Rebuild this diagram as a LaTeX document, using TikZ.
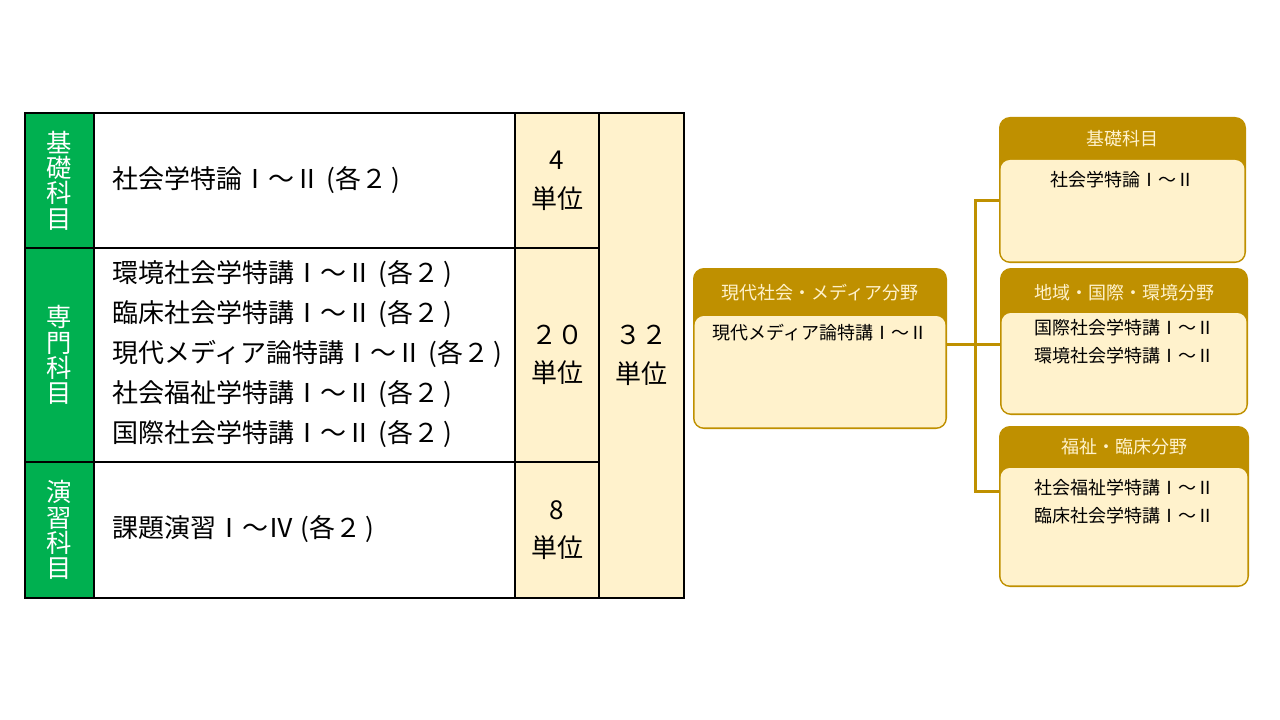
\documentclass[tikz,border=0pt]{standalone}
\usepackage{fontspec}
\setmainfont{Noto Sans CJK JP}
\usetikzlibrary{positioning}

\definecolor{gold}{HTML}{BF9000}
\definecolor{cream}{HTML}{FFF2CC}
\definecolor{kgreen}{HTML}{00B050}

\tikzset{
	catcell/.style = {draw, line width=1pt, fill=kgreen, text=white, minimum width=51.75pt, inner sep=0pt, align=center, font=\fontsize{19}{19}\selectfont},
	coursecell/.style = {draw, line width=1pt, fill=white, minimum width=315.75pt, inner sep=0pt},
	coursetext/.style = {inner sep=0pt, align=left, font=\fontsize{19.5}{30}\selectfont},
	unitcell/.style = {draw, line width=1pt, fill=cream, minimum width=63pt, inner sep=0pt, align=center, font=\fontsize{19.5}{29}\selectfont},
	fieldbox/.style = {draw=gold, fill=gold, line width=1.5pt, rounded corners=7.5pt, inner sep=0pt},
	fieldhead/.style = {text=cream, inner sep=0pt, font=\fontsize{13.5}{21}\selectfont},
	fieldbody/.style = {fill=cream, rounded corners=7pt},
	fieldtext/.style = {anchor=north, inner sep=0pt, align=left, font=\fontsize{13.5}{21}\selectfont},
	link/.style = {draw=gold, line width=2.25pt}
}

\begin{document}
\begin{tikzpicture}[x=0.75pt, y=-0.75pt]
	\useasboundingbox (0,0) rectangle (1280,720);

	% table of credits
	\node[catcell, minimum height=101.25pt] (kisoG) at (59.5,180.5) {基\\礎\\科\\目};
	\node[catcell, minimum height=160.5pt] (senmonG) at (59.5,355) {専\\門\\科\\目};
	\node[catcell, minimum height=102pt] (enshuG) at (59.5,530) {演\\習\\科\\目};

	\node[coursecell, minimum height=101.25pt] (kisoC) at (304.5,180.5) {};
	\node[coursecell, minimum height=160.5pt] (senmonC) at (304.5,355) {};
	\node[coursecell, minimum height=102pt] (enshuC) at (304.5,530) {};
	\node[coursetext, right=14.25pt of kisoC.west] (kisoT) {社会学特論Ⅰ～Ⅱ (各２\,)};
	\node[coursetext, right=14.25pt of senmonC.west, yshift=1pt] (senmonT) {環境社会学特講Ⅰ～Ⅱ (各２\,)\\臨床社会学特講Ⅰ～Ⅱ (各２\,)\\現代メディア論特講Ⅰ～Ⅱ (各２\,)\\社会福祉学特講Ⅰ～Ⅱ (各２\,)\\国際社会学特講Ⅰ～Ⅱ (各２\,)};
	\node[coursetext, right=14.25pt of enshuC.west, yshift=1pt] (enshuT) {課題演習Ⅰ～Ⅳ (各２\,)};

	\node[unitcell, minimum height=101.25pt] (kisoU) at (557,180.5) {4\\単位};
	\node[unitcell, minimum height=160.5pt] (senmonU) at (557,355) {２０\\単位};
	\node[unitcell, minimum height=102pt] (enshuU) at (557,530) {8\\単位};
	\node[unitcell, minimum width=63.75pt, minimum height=363.75pt] (total) at (641.5,355.5) {３２\\単位};

	% connectors
	\coordinate (spineT) at (975,201);
	\coordinate (spineM) at (975,344);
	\coordinate (spineB) at (975,491);

	% field boxes
	\node[fieldbox, minimum width=189pt, minimum height=119.25pt] (media) at (820,348.5) {};
	\node[fieldbox, minimum width=183.75pt, minimum height=108pt] (kisoF) at (1122.5,190) {};
	\node[fieldbox, minimum width=184.5pt, minimum height=108.75pt] (chiiki) at (1124,341.5) {};
	\node[fieldbox, minimum width=186pt, minimum height=119.25pt] (fukushi) at (1124,506.5) {};

	\draw[link] (kisoF.west |- spineT) -- (spineT) -- (spineB) -- (fukushi.west |- spineB);
	\draw[link] (media.east |- spineM) -- (chiiki.west |- spineM);

	\fill[fieldbody] ([xshift=1.2pt]media.west |- 0,316) rectangle ([shift={(-1.2pt,1.2pt)}]media.south east);
	\fill[fieldbody] ([xshift=1.2pt]kisoF.west |- 0,160) rectangle ([shift={(-1.2pt,1.2pt)}]kisoF.south east);
	\fill[fieldbody] ([xshift=1.2pt]chiiki.west |- 0,313) rectangle ([shift={(-1.2pt,1.2pt)}]chiiki.south east);
	\fill[fieldbody] ([xshift=1.2pt]fukushi.west |- 0,468) rectangle ([shift={(-1.2pt,1.2pt)}]fukushi.south east);

	\node[fieldhead] (mediaH) at (820,293) {現代社会・メディア分野};
	\node[fieldhead] (kisoH) at (1122.5,139) {基礎科目};
	\node[fieldhead] (chiikiH) at (1124,293) {地域・国際・環境分野};
	\node[fieldhead] (fukushiH) at (1124,447) {福祉・臨床分野};

	\node[fieldtext] (mediaB) at (820,324) {現代メディア論特講Ⅰ～Ⅱ};
	\node[fieldtext] (kisoB) at (1122.5,171) {社会学特論Ⅰ～Ⅱ};
	\node[fieldtext] (chiikiB) at (1124,319) {国際社会学特講Ⅰ～Ⅱ\\環境社会学特講Ⅰ～Ⅱ};
	\node[fieldtext] (fukushiB) at (1124,479) {社会福祉学特講Ⅰ～Ⅱ\\臨床社会学特講Ⅰ～Ⅱ};
\end{tikzpicture}
\end{document}
